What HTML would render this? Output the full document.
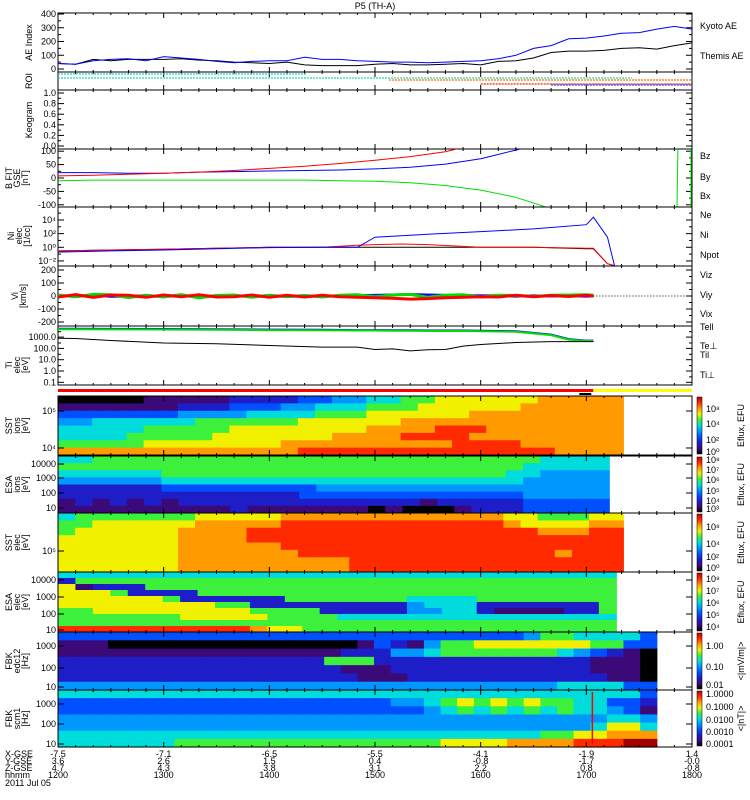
<!DOCTYPE html>
<html><head><meta charset="utf-8">
<style>
html,body{margin:0;padding:0;background:#fff;}
svg{display:block;font-family:"Liberation Sans",sans-serif;}
text{font-size:9px;fill:#000;}
</style></head>
<body>
<svg id="chart" width="750" height="800" viewBox="0 0 750 800" xmlns="http://www.w3.org/2000/svg">
<text x="375" y="9" text-anchor="middle" font-size="10">P5 (TH-A)</text>
</svg>
<script>
// ---------- data ----------
const aeTimes = [0,10,20,30,40,50,60,70,80,90,100,110,120,130,140,150,160,170,180,190,200,210,220,230,240,250,260,270,280,290,300,310,320,330,340,350,360];
const kyotoAE = [40,35,60,70,75,60,90,80,70,55,45,55,60,60,85,70,70,60,55,50,50,45,50,55,60,75,100,150,170,220,225,240,260,265,290,310,290];
const themisAE = [40,35,70,60,70,70,70,75,65,60,50,45,40,50,30,25,25,25,35,40,30,30,35,40,30,55,60,80,120,130,130,135,150,155,145,170,190];

const bTimes = [0,20,40,60,80,100,120,140,160,180,200,220,240,260,280,300];
const bzVals = [8,10,14,18,22,28,36,44,54,66,80,98,130,160,190,220];
const bxVals = [20,20,18,18,22,24,26,28,30,34,40,52,72,104,140,180];
const byVals = [-10,-8,-8,-8,-8,-8,-8,-8,-10,-12,-18,-28,-45,-72,-115,-160];

const nTimes = [0,30,60,90,120,150,170,180,195,210,240,270,300,304,312,316];
const niVals = [0.3,0.4,0.5,0.7,1,1,1,1,1,1,1,1,0.6,0.6,0.004,0.002];
const neVals = [0.3,0.4,0.5,0.7,1,1,2,2.5,3,2.5,1,1,0.7,0.7,0.004,0.002];
const npotVals = [0.2,0.3,0.4,0.6,0.9,1,1,30,50,80,200,500,2000,25000,30,0.002];

const vTimes = [0,10,20,30,40,50,60,70,80,90,100,110,120,130,140,150,160,170,180,190,200,210,220,230,240,250,260,270,280,290,300,304];
const vyVals = [8,-6,12,10,-12,6,-8,10,-15,4,8,-10,6,-6,4,-8,6,10,-6,8,12,-10,6,10,-8,6,4,-4,6,8,10,6];
const vxVals = [-8,10,-10,8,6,-10,8,-6,10,-8,-6,8,-10,6,-8,6,-6,-10,-14,-18,-24,-20,-14,-10,-6,-8,6,-6,4,-4,6,0];

const tTimes = [0,10,30,60,90,120,150,170,180,190,200,210,220,230,240,260,280,290,300,304];
const tiVals = [5000,5000,4800,4700,4500,4200,4000,3800,3800,3700,3600,3500,3500,3500,3300,3000,1500,600,450,450];
const teVals = [800,750,500,300,260,180,130,130,80,90,60,75,80,160,220,330,400,400,400,400];

const roiSeg = [["#22cccc",0,141,74],["#22ddaa",0,326,78],["#ff6600",188,360,80],["#ee2200",240,360,84],["#2244ff",280,360,85]];

const cmap = {"0":"#000000","1":"#3c0a78","2":"#1e1ec8","3":"#0050ff","4":"#0098ff","5":"#00dcdc","6":"#3cf03c","7":"#f0f000","8":"#ff9a00","9":"#ff2a00","d":"#a00000"};

const sstIonRows = [
"000001111122223344556677777788888",
"111111122233344555666777777888888",
"333333344445555666777777888888888",
"445555556666667777778888888888888",
"555556666677777777888899988888888",
"555566666777777788889999888888888",
"666667777777788888888889999888888",
"888888888888889999999999999998888"];
const esaIonRows = [
"55666666666666666666666666665555",
"66666666666666666666666666655555",
"55555566666666666666666666554444",
"44444455555555555555555555544444",
"22222233333333344444444444444444",
"22222222222222333333333333344444",
"12121212222222222222212222233333",
"11111111112111111101000122233333"];
const sstElecRows = [
"566666667777788888888888887766677",
"667777778888899999999999998777788",
"677777788889999999999999999988899",
"777777788889999999999999999999999",
"777777788888899999999999999999999",
"777777788888889999999999999998999",
"777777788888888889999999999999999",
"777777788888888889999999999999999"];
const esaElecRows = [
"55555555555555555555555555555555",
"26666666666666666666666666666666",
"71222666666666666666666666666666",
"77762222666666666666666666666666",
"77777762222226666666555566666666",
"77777777766222222222455522222226",
"66777777777666622222445521111226",
"66666667777766665555555555555555",
"66666666666666666666666666666666",
"99999999999877666666666666666666"];
const edcRows = [
"333333333333333333333333333346655553",
"111000000000000000132146677777776633",
"111111111111111112224456666666543210",
"222222222222222266622222222222221110",
"222222222222222221112222222222221110",
"222222222222222222111222222222222110",
"444444444444444444444444444444555533"];
const scmRows = [
"555555555555555555555555555555555553",
"333333333333333333334456767676655332",
"333333333333333333333345656565655431",
"444444444444444444444444444444444554",
"444444444444444444444444444444445775",
"555555555555555555555555555556677888",
"5555555666666666666666677778888999dd"];

const xTickLabels = ["1200","1300","1400","1500","1600","1700","1800"];
const xGse = ["-7.5","-7.1","-6.5","-5.5","-4.1","-1.9","1.4"];
const yGse = ["3.6","2.6","1.5","0.4","-0.8","-1.7","-0.0"];
const zGse = ["4.7","4.3","3.8","3.1","2.2","0.8","-0.8"];

// ---------- drawing ----------
const svg = document.getElementById('chart');
const NS = "http://www.w3.org/2000/svg";
const X0 = 58, X1 = 692;
function xs(t){ return X0 + t/360*(X1-X0); }
function mk(tag, attrs, parent){
  const e = document.createElementNS(NS, tag);
  for (const k in attrs) e.setAttribute(k, attrs[k]);
  (parent||svg).appendChild(e); return e;
}
function txt(x,y,s,attrs){ const t = mk('text', Object.assign({x:x,y:y}, attrs||{})); t.textContent = s; return t; }

function clipFor(id,y0,y1){
  const c = mk('clipPath',{id:id}); mk('rect',{x:X0,y:y0,width:X1-X0,height:y1-y0},c); return 'url(#'+id+')';
}
function frame(name,y0,y1){
  const g = mk('g',{});
  
  
  mk('rect',{x:X0,y:y0,width:X1-X0,height:y1-y0,fill:'none',stroke:'#000','stroke-width':1},g);
  for (let m=0;m<=360;m+=10){
    const x = xs(m); const L = (m%60===0)?5:2;
    mk('line',{x1:x,y1:y0,x2:x,y2:y0+L,stroke:'#000'},g);
    mk('line',{x1:x,y1:y1,x2:x,y2:y1-L,stroke:'#000'},g);
  }
  return g;
}
function yticks(g,ys,labels,minor){
  ys.forEach((y,i)=>{
    mk('line',{x1:X0,y1:y,x2:X0+6,y2:y,stroke:'#000'},g);
    mk('line',{x1:X1,y1:y,x2:X1-6,y2:y,stroke:'#000'},g);
    if (labels[i]!==null) txt(X0-2,y+3,labels[i],{'text-anchor':'end','font-size':'9'});
  });
  (minor||[]).forEach(y=>{
    mk('line',{x1:X0,y1:y,x2:X0+3,y2:y,stroke:'#000'},g);
    mk('line',{x1:X1,y1:y,x2:X1-3,y2:y,stroke:'#000'},g);
  });
}
function ylabel(lines,cx,cy,name){
  const t = mk('text',{transform:'translate('+cx+','+cy+') rotate(-90)','text-anchor':'middle','font-size':'8'});
  
  
  lines.forEach((l,i)=>{ const s = mk('tspan',{x:0,dy:i===0?0:8},t); s.textContent=l; });
}
function line(times,vals,yf,color,clip,w,name){
  const pts = times.map((t,i)=>xs(t).toFixed(1)+','+yf(vals[i]).toFixed(1)).join(' ');
  const p = mk('polyline',{points:pts,fill:'none',stroke:color,'stroke-width':w||1,'clip-path':clip});
  
  
}
function legend(x,y,s,color,name){
  const t = txt(x,y,s,{fill:color,'font-size':'9'});
  
  
}

// AE panel
(function(){
  const y0=13,y1=72; const yf=v=>y1-3-v/400*(y1-y0-4);
  const g=frame('ae-index-panel',y0,y1); const c=clipFor('cAE',y0,y1);
  yticks(g,[0,100,200,300,400].map(yf),["0","100","200","300","400"],[50,150,250,350].map(yf));
  ylabel(["AE Index"],32,(y0+y1)/2,'ae-y-axis-title');
  line(aeTimes,themisAE,yf,'#000',c,1,'themis-ae-line');
  line(aeTimes,kyotoAE,yf,'#0000ff',c,1,'kyoto-ae-line');
  legend(700,29,'Kyoto AE','#0000ff','legend-kyoto-ae');
  legend(700,59,'Themis AE','#000','legend-themis-ae');
})();
// ROI
(function(){
  const y0=72,y1=90; const g=frame('roi-panel',y0,y1);
  ylabel(["ROI"],32,81,'roi-y-axis-title');
  roiSeg.forEach(s=>{
    const l=mk('line',{x1:xs(s[1]),y1:s[3],x2:xs(s[2]),y2:s[3],stroke:s[0],'stroke-width':1.2,'stroke-dasharray':'2,1'});
    
    
  });
})();
// Keogram
(function(){
  const y0=90,y1=149; const yf=v=>y1-3-v*(y1-y0-6);
  const g=frame('keogram-panel',y0,y1);
  yticks(g,[0,0.2,0.4,0.6,0.8,1.0].map(yf),["0.0","0.2","0.4","0.6","0.8","1.0"],[0.1,0.3,0.5,0.7,0.9].map(yf));
  ylabel(["Keogram"],32,120,'keogram-y-axis-title');
})();
// B field
(function(){
  const y0=149,y1=207; const yf=v=>178-v*0.268;
  const g=frame('b-field-panel',y0,y1); const c=clipFor('cB',y0,y1);
  yticks(g,[-100,-50,0,50,100].map(yf),["-100","-50","0","50","100"],[-75,-25,25,75].map(yf));
  ylabel(["B FIT","GSE","[nT]"],12,178,'b-y-axis-title');
  line(bTimes,byVals,yf,'#00dd00',c,1,'by-line');
  line(bTimes,bxVals,yf,'#0000ff',c,1,'bx-line');
  line(bTimes,bzVals,yf,'#ff0000',c,1,'bz-line');
  mk('line',{x1:xs(352),y1:y0,x2:xs(351.5),y2:y1,stroke:'#00dd00'});
  mk('line',{x1:X1-1,y1:y0,x2:X1-1,y2:y1,stroke:'#00dd00'});
  legend(700,159,'Bz','#ff0000','legend-bz');
  legend(700,180,'By','#00cc00','legend-by');
  legend(700,199,'Bx','#0000ff','legend-bx');
})();
// Density
(function(){
  const y0=207,y1=266; const yf=v=>266-(Math.log10(v)+2.74)*6.83;
  const g=frame('density-panel',y0,y1); const c=clipFor('cN',y0,y1);
  yticks(g,[0.01,1,100,10000].map(yf),["10⁻²","10⁰","10²","10⁴"],[0.1,10,1000,100000].map(yf));
  ylabel(["Ni","elec","[1/cc]"],14,236,'density-y-axis-title');
  line(nTimes,niVals,yf,'#000',c,1,'ni-line');
  line(nTimes,neVals,yf,'#ff0000',c,1,'ne-line');
  line(nTimes,npotVals,yf,'#0000ff',c,1,'npot-line');
  legend(700,218,'Ne','#ff0000','legend-ne');
  legend(700,238,'Ni','#000','legend-ni');
  legend(700,258,'Npot','#0000ff','legend-npot');
})();
// Velocity
(function(){
  const y0=266,y1=326; const yf=v=>296-v*0.13;
  const g=frame('velocity-panel',y0,y1); const c=clipFor('cV',y0,y1);
  yticks(g,[-200,-100,0,100,200].map(yf),["-200","-100","0","100","200"],[-150,-50,50,150].map(yf));
  ylabel(["Vi","[km/s]"],18,296,'velocity-y-axis-title');
  line(vTimes,vxVals.map(v=>-v*0.5),yf,'#0000ff',c,2.5,'vx-line');
  line(vTimes,vyVals,yf,'#00dd00',c,3,'vy-line');
  line(vTimes,vxVals,yf,'#ff0000',c,3,'vz-line');
  mk('line',{x1:xs(304),y1:yf(0),x2:X1,y2:yf(0),stroke:'#000','stroke-dasharray':'1,2'});
  legend(700,278,'Viz','#ff0000','legend-viz');
  legend(700,298,'Viy','#00cc00','legend-viy');
  legend(700,317,'Vix','#0000ff','legend-vix');
})();
// Temperature
(function(){
  const y0=326,y1=385; const yf=v=>371-Math.log10(v)*11.3;
  const g=frame('temperature-panel',y0,y1); const c=clipFor('cT',y0,y1);
  yticks(g,[0.1,1,10,100,1000].map(yf),["0.1","1.0","10.0","100.0","1000.0"],[0.3,3,30,300,3000].map(yf));
  ylabel(["Ti","elec","[eV]"],12,365,'temperature-y-axis-title');
  line(tTimes,tiVals.map(v=>v*1.1),yf,'#0000ff',c,2,'ti-perp-line');
  line(tTimes,tiVals,yf,'#00dd00',c,2,'ti-par-line');
  line(tTimes,teVals,yf,'#000',c,1,'te-par-line');
  legend(700,330,'Tell','#000','legend-te-par');
  legend(700,349,'Te⊥','#ff0000','legend-te-perp');
  legend(700,358,'Til','#00cc00','legend-ti-par');
  legend(700,378,'Ti⊥','#0000ff','legend-ti-perp');
})();
// mode bar
(function(){
  const r=mk('rect',{x:X0,y:389,width:xs(304)-X0,height:3,fill:'#ff0000'});
   
  const r2=mk('rect',{x:xs(304),y:389,width:X1-xs(304),height:3,fill:'#ffff00'});
   
  mk('rect',{x:xs(296),y:393,width:12,height:2,fill:'#000'});
})();
// spectrograms
function spectro(name,y0,y1,rows,tEnd,labels,tickYs,tickLabs,cbLabs,cbTitle,cbCols){
  const g=frame(name,y0,y1);
  const cg=mk('g',{}); svg.insertBefore(cg,g);
  const rh=(y1-y0)/rows.length;
  rows.forEach((r,ri)=>{
    const cw=(xs(tEnd)-X0)/r.length;
    for(let ci=0;ci<r.length;ci++){
      const cell=mk('rect',{x:(X0+ci*cw).toFixed(2),y:(y0+ri*rh).toFixed(2),width:(cw+0.6).toFixed(2),height:(rh+0.6).toFixed(2),fill:cmap[r[ci]]},cg);
      
      
    }
  });
  yticks(g,tickYs,tickLabs,[]);
  ylabel(labels,12,(y0+y1)/2,name+'-y-axis-title');
  const gid='grad'+name;
  const gr=mk('linearGradient',{id:gid,x1:0,y1:1,x2:0,y2:0});
  cbCols.forEach((c,i)=>mk('stop',{offset:i/(cbCols.length-1),'stop-color':c},gr));
  const cb=mk('rect',{x:697,y:y0+1,width:5,height:y1-y0-2,fill:'url(#'+gid+')',stroke:'#000','stroke-width':0.5});
   
  cbLabs.forEach(l=>txt(706,l[1],l[0],{'font-size':'8'}));
  const t=mk('text',{transform:'translate(744,'+((y0+y1)/2)+') rotate(-90)','text-anchor':'middle','font-size':'8'});
  t.textContent=cbTitle;
}
const fullMap=['#000000','#3c0a78','#1e1ec8','#0050ff','#0098ff','#00dcdc','#3cf03c','#f0f000','#ff9a00','#ff2a00','#c00000'];
spectro('sst-ion-spectrogram',396,455,sstIonRows,321,["SST","ions","[eV]"],[411,448],["10⁵","10⁴"],[["10⁸",412],["10⁴",427],["10²",443],["10⁰",455]],'Eflux, EFU',fullMap);
spectro('esa-ion-spectrogram',456,513,esaIonRows,313,["ESA","ions","[eV]"],[464,478,493,508],["10000","1000","100","10"],[["10⁸",463],["10⁷",473],["10⁶",483],["10⁵",494],["10⁴",504],["10³",512]],'Eflux, EFU',fullMap);
spectro('sst-elec-spectrogram',513,572,sstElecRows,321,["SST","elec","[eV]"],[551],["10⁵"],[["10⁸",530],["10⁴",547],["10²",560],["10⁰",571]],'Eflux, EFU',fullMap);
spectro('esa-elec-spectrogram',572,632,esaElecRows,317,["ESA","elec","[eV]"],[580,597,614,630],["10000","1000","100","10"],[["10⁸",582],["10⁷",594],["10⁶",606],["10⁵",618],["10⁴",630]],'Eflux, EFU',fullMap);
spectro('fbk-edc12-spectrogram',632,690,edcRows,340,["FBK","edc12","[Hz]"],[646,668,687],["1000","100","10"],[["1.00",649],["0.10",670],["0.01",688]],'<|mV/m|>',fullMap);
spectro('fbk-scm1-spectrogram',690,747,scmRows,340,["FBK","scm1","[Hz]"],[704,724,744],["1000","100","10"],[["1.0000",697],["0.1000",710],["0.0100",723],["0.0010",735],["0.0001",747]],'<|nT|>',fullMap);
mk('rect',{x:xs(303),y:692,width:1.5,height:52,fill:'#ff0000'});

// x axis labels
(function(){
  const g=mk('g',{});
   
  const rows=[["X-GSE",xGse,757],["Y-GSE",yGse,764],["Z-GSE",zGse,771],["hhmm",xTickLabels,778]];
  rows.forEach(r=>{
    txt(5,r[2],r[0],{'font-size':'8'});
    r[1].forEach((s,i)=>txt(xs(i*60),r[2],s,{'text-anchor':'middle','font-size':'8'}));
  });
  txt(5,786,'2011 Jul 05',{'font-size':'8'});
})();
</script>
</body></html>
